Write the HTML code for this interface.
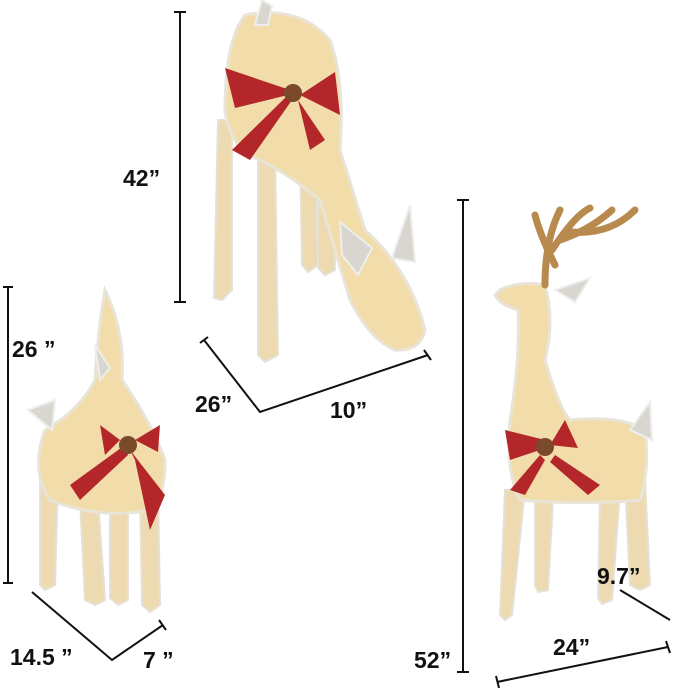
<!DOCTYPE html>
<html><head><meta charset="utf-8"><style>
html,body{margin:0;padding:0;background:#fff}
svg{display:block}
text{font-family:"Liberation Sans Narrow","Liberation Sans",sans-serif;font-weight:bold;font-size:23px;fill:#111}
.dim{stroke:#111;stroke-width:2;fill:none}
.deer{fill:#f2dcaa;stroke:#e9e4d8;stroke-width:3}
.leg{fill:#eedab0;stroke:#e6e1d6;stroke-width:2}
.bow{fill:#b3262a}
.ear{fill:#d9d6cf;stroke:#eee;stroke-width:2}
</style></head><body>
<svg width="679" height="690" viewBox="0 0 679 690">
<g>
 <polygon class="leg" points="218,120 232,120 232,290 222,300 214,298"/>
 <polygon class="leg" points="258,150 275,150 278,355 265,362 258,355"/>
 <polygon class="leg" points="300,150 316,150 318,265 308,272 302,265"/>
 <polygon class="leg" points="318,150 334,150 335,270 325,275 318,268"/>
 <path class="deer" d="M245,15 Q300,5 330,40 Q345,80 340,150 L365,230 Q410,270 425,330 Q420,352 395,350 Q370,340 350,300 L320,200 Q290,175 260,160 Q230,150 225,110 Q225,40 245,15Z"/>
 <polygon class="ear" points="340,222 372,248 358,275 342,255"/>
 <polygon class="ear" points="392,258 410,205 415,262"/>
 <polygon class="ear" points="255,25 262,0 272,6 268,25"/>
 <path class="bow" d="M290,90 L225,68 L235,108 L288,95 L232,150 L250,160 L292,100 Z M300,95 L335,72 L340,115 Z M298,100 L325,140 L310,150 Z"/>
 <circle cx="293" cy="93" r="9" fill="#7a4a2a"/>
</g>
<g>
 <polygon class="leg" points="40,480 58,480 55,585 45,590 40,585"/>
 <polygon class="leg" points="80,500 98,500 105,600 95,605 85,600"/>
 <polygon class="leg" points="110,500 128,500 128,600 118,605 110,598"/>
 <polygon class="leg" points="140,490 158,490 160,605 150,612 142,605"/>
 <path class="deer" d="M105,290 Q125,330 122,380 Q150,420 165,460 Q165,500 150,510 Q100,520 50,500 Q30,470 45,430 Q80,410 95,380 Q98,330 105,290Z"/>
 <polygon class="ear" points="95,345 110,368 100,380"/>
 <polygon class="ear" points="28,410 55,400 52,430"/>
 <path class="bow" d="M125,445 L70,485 L80,500 L128,455 Z M130,450 L165,495 L150,530 L135,460 Z M120,440 L100,425 L105,455 Z M135,440 L160,425 L158,452 Z"/>
 <circle cx="128" cy="445" r="9" fill="#7a4a2a"/>
</g>
<g>
 <polygon class="leg" points="505,490 525,490 512,615 505,620 500,615"/>
 <polygon class="leg" points="535,500 553,500 548,590 538,592 535,585"/>
 <polygon class="leg" points="600,490 620,490 612,600 602,604 598,598"/>
 <polygon class="leg" points="625,480 645,480 650,585 640,590 630,585"/>
 <path class="deer" d="M500,290 Q520,280 545,285 Q555,320 545,360 Q560,410 570,420 Q620,415 645,430 Q650,470 640,500 Q580,505 520,500 Q505,470 510,420 Q520,360 518,310 Q500,305 495,295Z"/>
 <path d="M545,285 Q545,240 560,210 M552,250 Q575,215 590,208 M560,240 Q590,230 612,210 M572,232 Q610,235 635,210 M555,265 Q540,235 535,215" stroke="#b98a4e" stroke-width="7" fill="none" stroke-linecap="round"/>
 <polygon class="ear" points="555,290 590,278 575,302"/>
 <polygon class="ear" points="630,430 650,402 652,440"/>
 <path class="bow" d="M545,440 L505,430 L510,460 L540,450 Z M550,445 L565,420 L578,448 Z M540,455 L510,490 L525,495 L545,460 Z M555,455 L600,485 L588,495 L550,462 Z"/>
 <circle cx="545" cy="447" r="9" fill="#7a4a2a"/>
</g>
<g>
 <path class="dim" d="M180,12 V302 M174,12 H186 M174,302 H186"/>
 <path class="dim" d="M204,340 L260,412 L428,355 M200,343 L208,337 M424,350 L431,360"/>
 <path class="dim" d="M8,287 V583 M3,287 H13 M3,583 H13"/>
 <path class="dim" d="M32,592 L112,660 L163,625 M159,620 L166,630"/>
 <path class="dim" d="M463,200 V672 M457,200 H469 M457,672 H469"/>
 <path class="dim" d="M497,682 L668,647 M496,676 L499,688 M666,641 L670,653"/>
 <path class="dim" d="M620,590 L670,620"/>
</g>
<text x="123" y="186">42”</text>
<text x="195" y="412">26”</text>
<text x="330" y="418">10”</text>
<text x="12" y="357">26 ”</text>
<text x="10" y="665">14.5 ”</text>
<text x="143" y="668">7 ”</text>
<text x="414" y="668">52”</text>
<text x="553" y="655">24”</text>
<text x="597" y="584">9.7”</text>
</svg>
</body></html>
